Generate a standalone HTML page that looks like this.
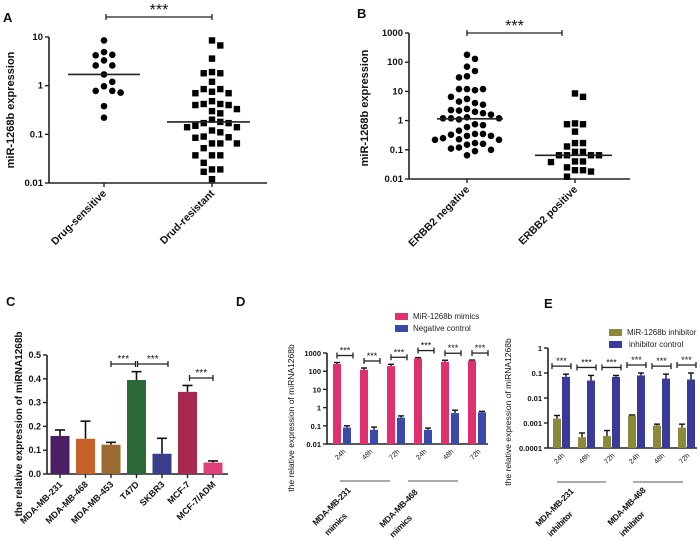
<!DOCTYPE html>
<html><head><meta charset="utf-8">
<style>
body{margin:0;background:#fff;}
svg{display:block;font-family:"Liberation Sans",Arial,sans-serif;}
</style></head>
<body>
<svg id="fig" width="700" height="540" viewBox="0 0 700 540" xmlns="http://www.w3.org/2000/svg"></svg>
<script>
// ---------- DATA ----------
const catsA = ["Drug-sensitive","Drud-resistant"];
const sensA = [8.5,4.9,4.3,4.2,3.3,2.6,2.6,1.7,1.2,0.97,0.78,0.78,0.72,0.38,0.22];
const resA = [8.5,6.7,3.6,1.9,1.8,1.8,1.2,0.85,0.85,0.75,0.7,0.7,0.48,0.42,0.42,0.4,0.4,0.33,0.3,0.27,0.2,0.18,0.17,0.17,0.15,0.14,0.14,0.12,0.11,0.09,0.087,0.085,0.065,0.065,0.065,0.052,0.037,0.037,0.037,0.026,0.019,0.019,0.017,0.012];
const medA = [1.7,0.18];
const ticksA = [0.01,0.1,1,10];
const tickLabA = ["0.01","0.1","1","10"];

const catsB = ["ERBB2 negative","ERBB2 positive"];
const negB = [180,130,70,50,33,30,12,11,12,12,6.5,5.5,4,4.5,3.5,2.5,2.2,2.3,2,1.8,1.6,1.3,1.2,1.2,1.1,1.2,0.75,0.7,0.6,0.45,0.35,0.35,0.33,0.3,0.3,0.25,0.23,0.22,0.22,0.17,0.16,0.15,0.12,0.11,0.1,0.09,0.065];
const posB = [8.5,6.5,0.8,0.75,0.75,0.42,0.17,0.17,0.13,0.085,0.085,0.065,0.065,0.065,0.065,0.04,0.04,0.038,0.025,0.02,0.02,0.018,0.012];
const medB = [1.15,0.065];
const ticksB = [0.01,0.1,1,10,100,1000];
const tickLabB = ["0.01","0.1","1","10","100","1000"];

const catsC = ["MDA-MB-231","MDA-MB-468","MDA-MB-453","T47D","SKBR3","MCF-7","MCF-7/ADM"];
const valC = [0.16,0.148,0.123,0.395,0.085,0.345,0.048];
const errC = [0.185,0.222,0.133,0.43,0.15,0.372,0.055];
const colC = ["#4a1f63","#c8602a","#9a6a30","#2a6a38","#3a3d8a","#a82850","#e0407a"];
const ticksC = [0,0.1,0.2,0.3,0.4,0.5];
const tickLabC = ["0.0","0.1","0.2","0.3","0.4","0.5"];

const timesD = ["24h","48h","72h","24h","48h","72h"];
const mimD = [250,120,190,500,330,380];
const mimErrD = [300,150,240,560,400,410];
const ncD = [0.08,0.06,0.28,0.06,0.5,0.55];
const ncErrD = [0.1,0.085,0.35,0.075,0.72,0.62];
const ticksD = [0.01,0.1,1,10,100,1000];
const tickLabD = ["0.01","0.1","1","10","100","1000"];

const timesE = ["24h","48h","72h","24h","48h","72h"];
const inhE = [0.0015,0.00027,0.0003,0.002,0.0008,0.00065];
const inhErrE = [0.002,0.0004,0.0005,0.0021,0.0009,0.0009];
const icE = [0.07,0.05,0.07,0.08,0.06,0.055];
const icErrE = [0.09,0.08,0.08,0.1,0.09,0.1];
const ticksE = [0.0001,0.001,0.01,0.1,1];
const tickLabE = ["0.0001","0.001","0.01","0.1","1"];

// ---------- HELPERS ----------
const NS="http://www.w3.org/2000/svg";
const svg=document.getElementById('fig');
function el(tag,attrs,parent,text){
  const e=document.createElementNS(NS,tag);
  for(const k in attrs) e.setAttribute(k,attrs[k]);
  if(text!==undefined) e.textContent=text;
  (parent||svg).appendChild(e);
  return e;
}
function logScale(lo,hi,yLo,yHi){
  const a=Math.log10(lo),b=Math.log10(hi);
  return v=>yLo+(Math.log10(v)-a)/(b-a)*(yHi-yLo);
}
function linScale(lo,hi,yLo,yHi){return v=>yLo+(v-lo)/(hi-lo)*(yHi-yLo);}
function group(name){const g=el('g',{});return g;}
function label(txt,x,y,name,size){
  const t=el('text',{x:x,y:y,'font-size':size||13,'font-weight':'bold',fill:'#111'},svg,txt);
  
}
function yAxis(g,x,yTop,yBot,ticks,labs,sc,fs,bold){
  el('line',{x1:x,y1:yTop,x2:x,y2:yBot,stroke:'#222','stroke-width':1.6},g);
  ticks.forEach((t,i)=>{
    const y=sc(t);
    el('line',{x1:x-4,y1:y,x2:x,y2:y,stroke:'#222','stroke-width':1.4},g);
    const tx=el('text',{x:x-6,y:y+3,'font-size':fs,'font-weight':bold?'bold':'normal','text-anchor':'end',fill:'#111'},g,labs[i]);
    
    
  });
}
function yTitle(g,txt,x,y,fs,bold){
  const t=el('text',{x:0,y:0,transform:`translate(${x},${y}) rotate(-90)`,'font-size':fs,'font-weight':bold?'bold':'normal','text-anchor':'middle',fill:'#111'},g,txt);
  
  
}
function rotLabel(g,txt,x,y,fs,bold,name,anchor){
  const t=el('text',{x:0,y:0,transform:`translate(${x},${y}) rotate(-45)`,'font-size':fs,'font-weight':bold?'bold':'normal','text-anchor':anchor||'end',fill:'#111'},g,txt);
  
  
  return t;
}
function sig(g,x1,x2,y,fs){
  el('line',{x1:x1,y1:y,x2:x2,y2:y,stroke:'#222','stroke-width':1.3},g);
  el('line',{x1:x1,y1:y-3,x2:x1,y2:y+3,stroke:'#222','stroke-width':1.3},g);
  el('line',{x1:x2,y1:y-3,x2:x2,y2:y+3,stroke:'#222','stroke-width':1.3},g);
  const t=el('text',{x:(x1+x2)/2,y:y-2,'font-size':fs,'text-anchor':'middle',fill:'#111'},g,'***');
  
  
}
function swarm(vals,cx,sc,d){
  const placed=[];
  vals.forEach(v=>{
    const y=sc(v);
    let x=cx;
    for(let n=0;n<40;n++){
      const off=(n===0)?0:(Math.ceil(n/2)*(n%2?1:-1))*d;
      x=cx+off;
      if(!placed.some(p=>Math.hypot(p[0]-x,p[1]-y)<d)) break;
    }
    placed.push([x,y]);
  });
  return placed;
}
function grp(g,txt,x,y){
  const t=rotLabel(g,txt,x,y,8.5,true,'group-label','start');
  t.setAttribute('letter-spacing','-0.3');
}

// ---------- PANEL A ----------
(function(){
  const g=group('panel-a');
  const sc=logScale(0.01,10,183,37);
  const ax=49,axR=267,cx=[104,212];
  yAxis(g,ax,37,183,ticksA,tickLabA,sc,9.5,true);
  el('line',{x1:ax,y1:183,x2:axR,y2:183,stroke:'#222','stroke-width':1.6},g);
  cx.forEach((x,i)=>{
    el('line',{x1:x,y1:183,x2:x,y2:187,stroke:'#222','stroke-width':1.4},g);
    rotLabel(g,catsA[i],x+3,194,10.5,true);
  });
  yTitle(g,'miR-1268b expression',14,110,11,true);
  swarm(sensA,cx[0],sc,8.3).forEach(p=>{
    const c=el('circle',{cx:p[0],cy:p[1],r:3.3,fill:'#000'},g);
    
    
  });
  swarm(resA,cx[1],sc,8.3).forEach(p=>{
    const c=el('rect',{x:p[0]-3.2,y:p[1]-3.2,width:6.4,height:6.4,fill:'#000'},g);
    
    
  });
  [[68,140],[167,250]].forEach((r,i)=>{
    const m=el('line',{x1:r[0],y1:sc(medA[i]),x2:r[1],y2:sc(medA[i]),stroke:'#222','stroke-width':1.6},g);
    
    
  });
  sig(g,106,212,17,16);
})();
label('A',3,22,'panel-a-label');

// ---------- PANEL B ----------
(function(){
  const g=group('panel-b');
  const sc=logScale(0.01,1000,179,33);
  const ax=409,axR=630,cx=[467,575];
  yAxis(g,ax,33,179,ticksB,tickLabB,sc,9.5,true);
  el('line',{x1:ax,y1:179,x2:axR,y2:179,stroke:'#222','stroke-width':1.6},g);
  cx.forEach((x,i)=>{
    el('line',{x1:x,y1:179,x2:x,y2:183,stroke:'#222','stroke-width':1.4},g);
    rotLabel(g,catsB[i],x+3,190,10.5,true);
  });
  yTitle(g,'miR-1268b expression',368,108,11,true);
  swarm(negB,cx[0],sc,8).forEach(p=>{
    const c=el('circle',{cx:p[0],cy:p[1],r:3.3,fill:'#000'},g);
    
    
  });
  swarm(posB,cx[1],sc,8).forEach(p=>{
    const c=el('rect',{x:p[0]-3.2,y:p[1]-3.2,width:6.4,height:6.4,fill:'#000'},g);
    
    
  });
  [[437,503],[535,612]].forEach((r,i)=>{
    const m=el('line',{x1:r[0],y1:sc(medB[i]),x2:r[1],y2:sc(medB[i]),stroke:'#222','stroke-width':1.6},g);
    
    
  });
  sig(g,467,562,33,16);
})();
label('B',357,18,'panel-b-label');

// ---------- PANEL C ----------
(function(){
  const g=group('panel-c');
  const sc=linScale(0,0.5,474,355);
  const ax=47,axR=228,x0=60,step=25.5,bw=19;
  yAxis(g,ax,355,474,ticksC,tickLabC,sc,9,true);
  el('line',{x1:ax,y1:474,x2:axR,y2:474,stroke:'#222','stroke-width':1.6},g);
  catsC.forEach((c,i)=>{
    const x=x0+i*step;
    const ye=sc(errC[i]);
    el('line',{x1:x,y1:sc(valC[i]),x2:x,y2:ye,stroke:'#111','stroke-width':1.6},g);
    el('line',{x1:x-5,y1:ye,x2:x+5,y2:ye,stroke:'#111','stroke-width':1.6},g);
    const b=el('rect',{x:x-bw/2,y:sc(valC[i]),width:bw,height:474-sc(valC[i]),fill:colC[i]},g);
    
    
    el('line',{x1:x,y1:474,x2:x,y2:478,stroke:'#222','stroke-width':1.4},g);
    rotLabel(g,c,x+3,485,9,true);
  });
  sig(g,x0+2*step,x0+3*step-1,364,10);
  sig(g,x0+3*step+1,x0+4*step+6,364,10);
  sig(g,x0+5*step+2,x0+6*step,378,10);
  yTitle(g,'the relative expression of miRNA1268b',22,424,10,true);
})();
label('C',6,306,'panel-c-label');

// ---------- PANEL D ----------
(function(){
  const g=group('panel-d');
  const sc=logScale(0.01,1000,444,353);
  const ax=327,axR=488,x0=337,step=27,bw=8;
  yAxis(g,ax,353,444,ticksD,tickLabD,sc,7.5,true);
  el('line',{x1:ax,y1:444,x2:axR,y2:444,stroke:'#222','stroke-width':1.6},g);
  timesD.forEach((t,i)=>{
    const xp=x0+i*step,xb=xp+10;
    [[xp,mimD[i],mimErrD[i],'#e0306f','bar-mimics'],[xb,ncD[i],ncErrD[i],'#3a4aa8','bar-negative-control']].forEach(s=>{
      const ye=sc(s[2]);
      el('line',{x1:s[0],y1:sc(s[1]),x2:s[0],y2:ye,stroke:'#111','stroke-width':1.4},g);
      el('line',{x1:s[0]-3,y1:ye,x2:s[0]+3,y2:ye,stroke:'#111','stroke-width':1.4},g);
      const b=el('rect',{x:s[0]-bw/2,y:sc(s[1]),width:bw,height:444-sc(s[1]),fill:s[3]},g);
      
      
    });
    sig(g,xp,xb+6,sc(mimErrD[i])-7,9);
    rotLabel(g,t,xp+9,452,7,false);
  });
  el('line',{x1:340,y1:481,x2:390,y2:481,stroke:'#777','stroke-width':1.2},g);
  el('line',{x1:408,y1:481,x2:458,y2:481,stroke:'#777','stroke-width':1.2},g);
  grp(g,'MDA-MB-231',316,526);
  grp(g,'mimics',328,536);
  grp(g,'MDA-MB-468',383,528);
  grp(g,'mimics',393,538);
  yTitle(g,'the relative expression of miRNA1268b',294,418,8.5,false);
  const l1=el('rect',{x:395,y:313,width:13,height:7,fill:'#e0306f'},g);
  
  el('text',{x:413,y:319,'font-size':8,fill:'#222'},g,'MiR-1268b mimics');
  const l2=el('rect',{x:395,y:325,width:13,height:7,fill:'#3a4aa8'},g);
  
  el('text',{x:413,y:331,'font-size':8,fill:'#222'},g,'Negative control');
})();
label('D',236,306,'panel-d-label');

// ---------- PANEL E ----------
(function(){
  const g=group('panel-e');
  const sc=logScale(0.0001,1,448,348);
  const ax=548,axR=697,x0=557,step=25,bw=8;
  yAxis(g,ax,348,448,ticksE,tickLabE,sc,7.5,true);
  el('line',{x1:ax,y1:448,x2:axR,y2:448,stroke:'#222','stroke-width':1.6},g);
  timesE.forEach((t,i)=>{
    const xo=x0+i*step,xb=xo+9;
    [[xo,inhE[i],inhErrE[i],'#8a8a3a','bar-inhibitor'],[xb,icE[i],icErrE[i],'#3a3a9a','bar-inhibitor-control']].forEach(s=>{
      const ye=sc(s[2]);
      el('line',{x1:s[0],y1:sc(s[1]),x2:s[0],y2:ye,stroke:'#111','stroke-width':1.4},g);
      el('line',{x1:s[0]-3,y1:ye,x2:s[0]+3,y2:ye,stroke:'#111','stroke-width':1.4},g);
      const b=el('rect',{x:s[0]-bw/2,y:sc(s[1]),width:bw,height:448-sc(s[1]),fill:s[3]},g);
      
      
    });
    sig(g,xo-5,xb+5,sc(icErrE[i])-8,9);
    rotLabel(g,t,xo+8,456,7,false);
  });
  el('line',{x1:557,y1:482,x2:606,y2:482,stroke:'#777','stroke-width':1.2},g);
  el('line',{x1:633,y1:482,x2:683,y2:482,stroke:'#777','stroke-width':1.2},g);
  grp(g,'MDA-MB-231',539,527);
  grp(g,'inhibitor',551,537);
  grp(g,'MDA-MB-468',611,526);
  grp(g,'inhibitor',623,537);
  yTitle(g,'the relative expression of miRNA1268b',511,412,8.5,false);
  const l1=el('rect',{x:609,y:329,width:13,height:7,fill:'#8a8a3a'},g);
  
  el('text',{x:627,y:335,'font-size':8,fill:'#222'},g,'MiR-1268b inhibitor');
  const l2=el('rect',{x:609,y:341,width:13,height:7,fill:'#3a3a9a'},g);
  
  el('text',{x:629,y:347,'font-size':8,fill:'#222'},g,'inhibitor control');
})();
label('E',544,308,'panel-e-label');
</script>
</body></html>
